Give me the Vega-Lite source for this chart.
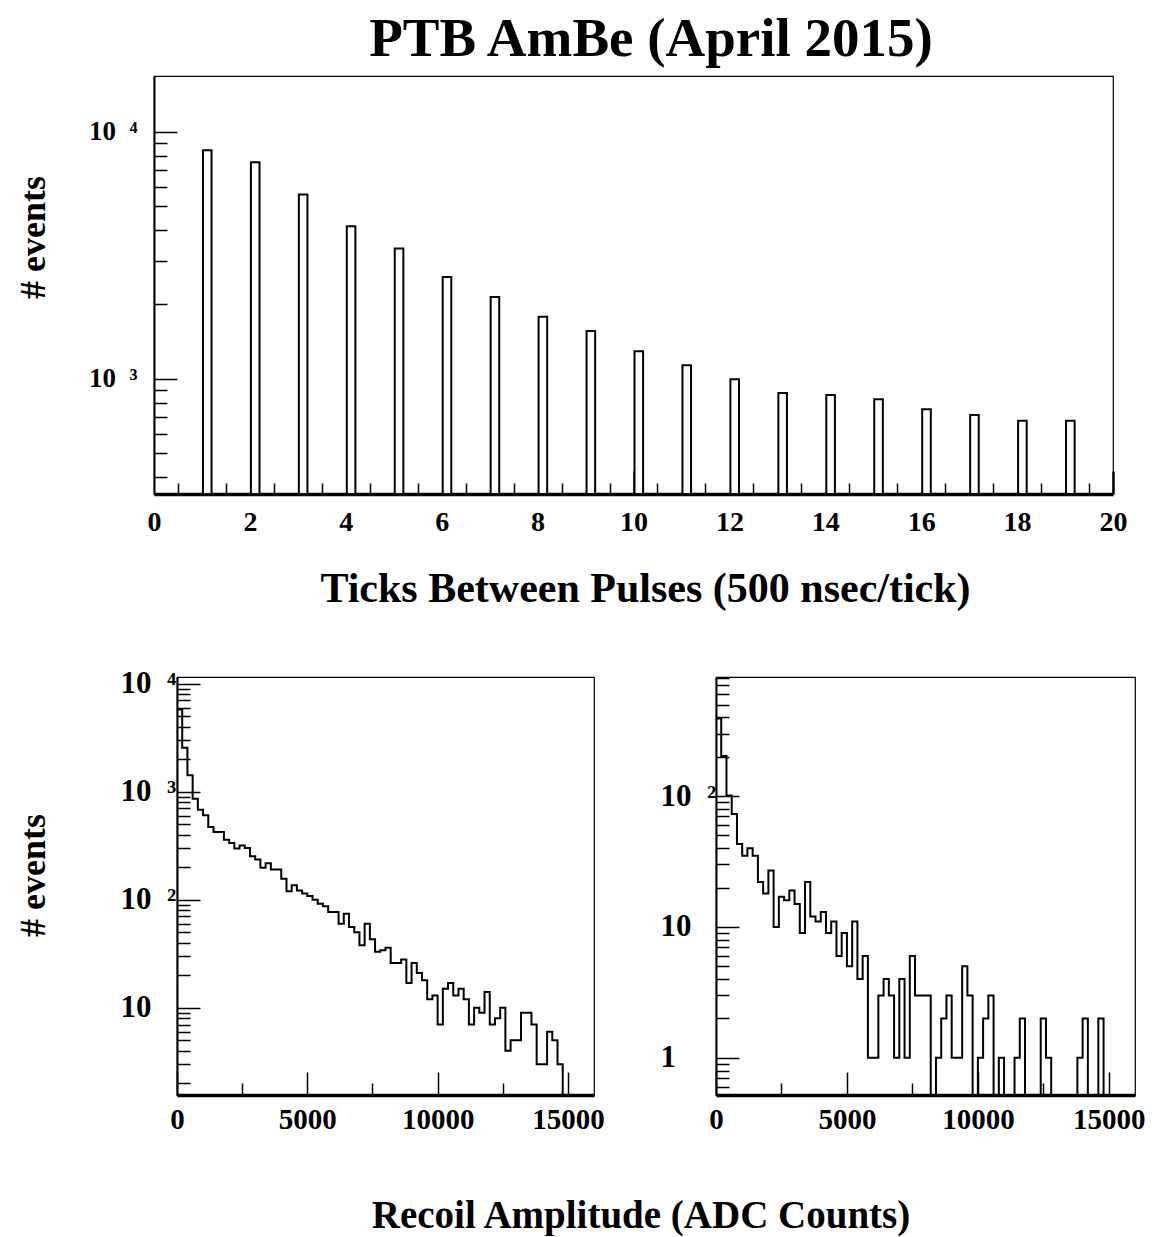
{
  "$schema": "https://vega.github.io/schema/vega-lite/v6.json",
  "background": "white",
  "padding": {"left": 14, "top": 12, "right": 2, "bottom": 0},
  "config": {
    "font": "Liberation Serif",
    "view": {"stroke": "black", "strokeWidth": 1.2},
    "axis": {"labelFont": "Liberation Serif", "labelFontWeight": "bold", "labelColor": "black", "titleFont": "Liberation Serif", "titleFontWeight": "bold", "titleColor": "black", "domainColor": "black", "tickColor": "black", "grid": false, "labelOverlap": false, "labelFlush": false},
    "title": {"font": "Liberation Serif", "fontWeight": "bold", "color": "black"}
  },
  "title": {"text": "PTB AmBe (April 2015)", "fontSize": 55, "anchor": "middle", "offset": 7, "dx": 71},
  "datasets": {
    "ticks": [
      {"tick_start": 1, "tick_end": 1.2, "events": 8420},
      {"tick_start": 2, "tick_end": 2.2, "events": 7530},
      {"tick_start": 3, "tick_end": 3.2, "events": 5570},
      {"tick_start": 4, "tick_end": 4.2, "events": 4145},
      {"tick_start": 5, "tick_end": 5.2, "events": 3365},
      {"tick_start": 6, "tick_end": 6.2, "events": 2583},
      {"tick_start": 7, "tick_end": 7.2, "events": 2142},
      {"tick_start": 8, "tick_end": 8.2, "events": 1783},
      {"tick_start": 9, "tick_end": 9.2, "events": 1563},
      {"tick_start": 10, "tick_end": 10.2, "events": 1294},
      {"tick_start": 11, "tick_end": 11.2, "events": 1135},
      {"tick_start": 12, "tick_end": 12.2, "events": 997},
      {"tick_start": 13, "tick_end": 13.2, "events": 877},
      {"tick_start": 14, "tick_end": 14.2, "events": 861},
      {"tick_start": 15, "tick_end": 15.2, "events": 827},
      {"tick_start": 16, "tick_end": 16.2, "events": 754},
      {"tick_start": 17, "tick_end": 17.2, "events": 714},
      {"tick_start": 18, "tick_end": 18.2, "events": 676},
      {"tick_start": 19, "tick_end": 19.2, "events": 676}
    ],
    "left": [
      {"amp": 0, "events": 5740}, {"amp": 200, "events": 2550}, {"amp": 400, "events": 1416}, {"amp": 600, "events": 861},
      {"amp": 800, "events": 681}, {"amp": 1000, "events": 604}, {"amp": 1200, "events": 470}, {"amp": 1400, "events": 423},
      {"amp": 1600, "events": 423}, {"amp": 1800, "events": 359}, {"amp": 2000, "events": 334}, {"amp": 2200, "events": 297},
      {"amp": 2400, "events": 318}, {"amp": 2600, "events": 301}, {"amp": 2800, "events": 252}, {"amp": 3000, "events": 236},
      {"amp": 3200, "events": 198}, {"amp": 3400, "events": 218}, {"amp": 3600, "events": 190}, {"amp": 3800, "events": 190},
      {"amp": 4000, "events": 156}, {"amp": 4200, "events": 120}, {"amp": 4400, "events": 136}, {"amp": 4600, "events": 122},
      {"amp": 4800, "events": 114}, {"amp": 5000, "events": 108}, {"amp": 5200, "events": 100}, {"amp": 5400, "events": 92},
      {"amp": 5600, "events": 87}, {"amp": 5800, "events": 77}, {"amp": 6000, "events": 77}, {"amp": 6200, "events": 60},
      {"amp": 6400, "events": 74}, {"amp": 6600, "events": 56}, {"amp": 6800, "events": 50}, {"amp": 7000, "events": 38},
      {"amp": 7200, "events": 60}, {"amp": 7400, "events": 43}, {"amp": 7600, "events": 33}, {"amp": 7800, "events": 34},
      {"amp": 8000, "events": 36}, {"amp": 8200, "events": 26}, {"amp": 8400, "events": 26}, {"amp": 8600, "events": 28},
      {"amp": 8800, "events": 17}, {"amp": 9000, "events": 26}, {"amp": 9200, "events": 21}, {"amp": 9400, "events": 18},
      {"amp": 9600, "events": 12}, {"amp": 9800, "events": 13}, {"amp": 10000, "events": 7}, {"amp": 10200, "events": 15},
      {"amp": 10400, "events": 17}, {"amp": 10600, "events": 13}, {"amp": 10800, "events": 15}, {"amp": 11000, "events": 12},
      {"amp": 11200, "events": 7}, {"amp": 11400, "events": 10}, {"amp": 11600, "events": 9}, {"amp": 11800, "events": 14},
      {"amp": 12000, "events": 7}, {"amp": 12200, "events": 8}, {"amp": 12400, "events": 10}, {"amp": 12600, "events": 4},
      {"amp": 12800, "events": 5}, {"amp": 13000, "events": 5}, {"amp": 13200, "events": 9}, {"amp": 13400, "events": 9},
      {"amp": 13600, "events": 7}, {"amp": 13800, "events": 3}, {"amp": 14000, "events": 3}, {"amp": 14200, "events": 6},
      {"amp": 14400, "events": 5}, {"amp": 14600, "events": 3}, {"amp": 14800, "events": 0}, {"amp": 15000, "events": 0},
      {"amp": 15200, "events": 0}, {"amp": 15400, "events": 0}, {"amp": 15600, "events": 0}, {"amp": 15800, "events": 0},
      {"amp": 16000, "events": 0}
    ],
    "right": [
      {"amp": 0, "events": 391}, {"amp": 200, "events": 202}, {"amp": 400, "events": 101}, {"amp": 600, "events": 73},
      {"amp": 800, "events": 43}, {"amp": 1000, "events": 35}, {"amp": 1200, "events": 40}, {"amp": 1400, "events": 35},
      {"amp": 1600, "events": 22}, {"amp": 1800, "events": 18}, {"amp": 2000, "events": 27}, {"amp": 2200, "events": 10},
      {"amp": 2400, "events": 17}, {"amp": 2600, "events": 16}, {"amp": 2800, "events": 19}, {"amp": 3000, "events": 15},
      {"amp": 3200, "events": 9}, {"amp": 3400, "events": 22}, {"amp": 3600, "events": 12}, {"amp": 3800, "events": 11},
      {"amp": 4000, "events": 13}, {"amp": 4200, "events": 9}, {"amp": 4400, "events": 11}, {"amp": 4600, "events": 6},
      {"amp": 4800, "events": 9}, {"amp": 5000, "events": 5}, {"amp": 5200, "events": 11}, {"amp": 5400, "events": 4},
      {"amp": 5600, "events": 6}, {"amp": 5800, "events": 1}, {"amp": 6000, "events": 1}, {"amp": 6200, "events": 3},
      {"amp": 6400, "events": 4}, {"amp": 6600, "events": 3}, {"amp": 6800, "events": 1}, {"amp": 7000, "events": 4},
      {"amp": 7200, "events": 1}, {"amp": 7400, "events": 6}, {"amp": 7600, "events": 3}, {"amp": 7800, "events": 3},
      {"amp": 8000, "events": 3}, {"amp": 8200, "events": 0}, {"amp": 8400, "events": 1}, {"amp": 8600, "events": 2},
      {"amp": 8800, "events": 3}, {"amp": 9000, "events": 1}, {"amp": 9200, "events": 1}, {"amp": 9400, "events": 5},
      {"amp": 9600, "events": 3}, {"amp": 9800, "events": 0}, {"amp": 10000, "events": 1}, {"amp": 10200, "events": 2},
      {"amp": 10400, "events": 3}, {"amp": 10600, "events": 0}, {"amp": 10800, "events": 1}, {"amp": 11000, "events": 0},
      {"amp": 11200, "events": 0}, {"amp": 11400, "events": 1}, {"amp": 11600, "events": 2}, {"amp": 11800, "events": 0},
      {"amp": 12000, "events": 0}, {"amp": 12200, "events": 0}, {"amp": 12400, "events": 2}, {"amp": 12600, "events": 1},
      {"amp": 12800, "events": 0}, {"amp": 13000, "events": 0}, {"amp": 13200, "events": 0}, {"amp": 13400, "events": 0},
      {"amp": 13600, "events": 0}, {"amp": 13800, "events": 1}, {"amp": 14000, "events": 2}, {"amp": 14200, "events": 0},
      {"amp": 14400, "events": 0}, {"amp": 14600, "events": 2}, {"amp": 14800, "events": 0}, {"amp": 15000, "events": 0},
      {"amp": 15200, "events": 0}, {"amp": 15400, "events": 0}, {"amp": 15600, "events": 0}, {"amp": 15800, "events": 0},
      {"amp": 16000, "events": 0}
    ]
  },
  "spacing": 56,
  "vconcat": [
    {
      "width": 959,
      "height": 418,
      "data": {"name": "ticks"},
      "layer": [
        {
          "mark": {"type": "bar", "fill": "white", "stroke": "black", "strokeWidth": 2},
          "encoding": {
            "x": {"field": "tick_start", "type": "quantitative", "bin": {"binned": true, "step": 0.2}, "scale": {"domain": [0, 20], "nice": false, "zero": false},
              "axis": {"orient": "bottom", "values": [0, 2, 4, 6, 8, 10, 12, 14, 16, 18, 20], "format": "d", "labelFontSize": 28, "labelPadding": 37,
                "tickSize": -23, "tickWidth": 2.5, "tickOpacity": {"condition": {"test": "datum.value == 10 || datum.value == 20", "value": 1}, "value": 0},
                "domainWidth": 3.5, "title": "Ticks Between Pulses (500 nsec/tick)", "titleFontSize": 42, "titlePadding": 34, "titleX": 491, "minExtent": 40, "maxExtent": 40}},
            "x2": {"field": "tick_end"},
            "y": {"field": "events", "type": "quantitative", "scale": {"type": "log", "domain": [342, 16800], "nice": false, "clamp": true},
              "axis": {"orient": "left", "values": [1000, 10000], "labelExpr": "datum.value == 10000 ? '10\u2002\u2074' : '10\u2002\u00b3'", "labelFontSize": 27, "labelPadding": 40,
                "tickSize": -23, "tickWidth": 1.5, "domainWidth": 2, "title": "# events", "titleFontSize": 36, "titlePadding": 13, "titleY": 161, "minExtent": 89, "maxExtent": 89}}
          }
        },
        {
          "mark": {"type": "point", "opacity": 0},
          "encoding": {
            "x": {"field": "tick_start", "type": "quantitative", "scale": {"domain": [0, 20], "nice": false, "zero": false},
              "axis": {"orient": "bottom", "values": [0.5, 1.5, 2.5, 3.5, 4.5, 5.5, 6.5, 7.5, 8.5, 9.5, 10.5, 11.5, 12.5, 13.5, 14.5, 15.5, 16.5, 17.5, 18.5, 19.5], "labels": false, "domain": false, "title": null, "tickSize": -11, "tickWidth": 1.5}},
            "y": {"field": "events", "type": "quantitative", "scale": {"type": "log", "domain": [342, 16800], "nice": false, "clamp": true},
              "axis": {"orient": "left", "values": [400, 500, 600, 700, 800, 900, 2000, 3000, 4000, 5000, 6000, 7000, 8000, 9000], "labels": false, "domain": false, "title": null, "tickSize": -13, "tickWidth": 1.5}}
          }
        }
      ],
      "resolve": {"axis": {"x": "independent", "y": "independent"}}
    },
    {
      "bounds": "flush",
      "spacing": 0,
      "hconcat": [
        {
          "width": 23,
          "height": 418,
          "view": {"stroke": null},
          "data": {"values": []},
          "mark": {"type": "point", "opacity": 0},
          "encoding": {}
        },
        {
          "spacing": 54,
          "title": {"text": "Recoil Amplitude (ADC Counts)", "orient": "bottom", "fontSize": 39, "anchor": "middle", "offset": 62, "dx": 61},
          "hconcat": [
            {
              "width": 417,
              "height": 418,
              "data": {"name": "left"},
              "layer": [
                {
                  "mark": {"type": "line", "interpolate": "step-after", "color": "black", "strokeWidth": 2, "clip": true, "invalid": null},
                  "encoding": {
                    "x": {"field": "amp", "type": "quantitative", "scale": {"domain": [0, 16000], "nice": false},
                      "axis": {"orient": "bottom", "values": [0, 5000, 10000, 15000], "format": "d", "labelFontSize": 29, "labelPadding": 33, "tickSize": -23, "tickWidth": 1.5, "domainWidth": 3.5, "title": null}},
                    "y": {"field": "events", "type": "quantitative", "scale": {"type": "log", "domain": [1.56, 11500], "nice": false, "clamp": true},
                      "axis": {"orient": "left", "values": [10, 100, 1000, 10000], "labelExpr": "datum.value == 10000 ? '10\u2002\u2074' : datum.value == 1000 ? '10\u2002\u00b3' : datum.value == 100 ? '10\u2002\u00b2' : '10'", "labelFontSize": 31, "labelPadding": 80, "labelAlign": "left",
                        "tickSize": -23, "tickWidth": 1.5, "domainWidth": 2, "title": "# events", "titleFontSize": 36, "titlePadding": 13, "titleY": 198, "minExtent": 112, "maxExtent": 112}}
                  }
                },
                {
                  "mark": {"type": "point", "opacity": 0},
                  "encoding": {
                    "x": {"field": "amp", "type": "quantitative", "scale": {"domain": [0, 16000], "nice": false},
                      "axis": {"orient": "bottom", "values": [2500, 7500, 12500], "labels": false, "domain": false, "title": null, "tickSize": -12, "tickWidth": 1.5}},
                    "y": {"field": "events", "type": "quantitative", "scale": {"type": "log", "domain": [1.56, 11500], "nice": false, "clamp": true},
                      "axis": {"orient": "left", "values": [2, 3, 4, 5, 6, 7, 8, 9, 20, 30, 40, 50, 60, 70, 80, 90, 200, 300, 400, 500, 600, 700, 800, 900, 2000, 3000, 4000, 5000, 6000, 7000, 8000, 9000], "labels": false, "domain": false, "title": null, "tickSize": -13, "tickWidth": 1.5}}
                  }
                }
              ],
              "resolve": {"axis": {"x": "independent", "y": "independent"}}
            },
            {
              "width": 419,
              "height": 418,
              "data": {"name": "right"},
              "layer": [
                {
                  "mark": {"type": "line", "interpolate": "step-after", "color": "black", "strokeWidth": 2, "clip": true, "invalid": null},
                  "encoding": {
                    "x": {"field": "amp", "type": "quantitative", "scale": {"domain": [0, 16000], "nice": false},
                      "axis": {"orient": "bottom", "values": [0, 5000, 10000, 15000], "format": "d", "labelFontSize": 29, "labelPadding": 33, "tickSize": -23, "tickWidth": 1.5, "domainWidth": 3.5, "title": null}},
                    "y": {"field": "events", "type": "quantitative", "scale": {"type": "log", "domain": [0.52, 812], "nice": false, "clamp": true},
                      "axis": {"orient": "left", "values": [1, 10, 100], "labelExpr": "datum.value == 100 ? '10\u2002\u00b2' : datum.value == 10 ? '10' : '1'", "labelFontSize": 31, "labelPadding": 79, "labelAlign": "left",
                        "tickSize": -23, "tickWidth": 1.5, "domainWidth": 2, "title": null}}
                  }
                },
                {
                  "mark": {"type": "point", "opacity": 0},
                  "encoding": {
                    "x": {"field": "amp", "type": "quantitative", "scale": {"domain": [0, 16000], "nice": false},
                      "axis": {"orient": "bottom", "values": [2500, 7500, 12500], "labels": false, "domain": false, "title": null, "tickSize": -12, "tickWidth": 1.5}},
                    "y": {"field": "events", "type": "quantitative", "scale": {"type": "log", "domain": [0.52, 812], "nice": false, "clamp": true},
                      "axis": {"orient": "left", "values": [0.6, 0.7, 0.8, 0.9, 2, 3, 4, 5, 6, 7, 8, 9, 20, 30, 40, 50, 60, 70, 80, 90, 200, 300, 400, 500, 600, 700, 800], "labels": false, "domain": false, "title": null, "tickSize": -13, "tickWidth": 1.5}}
                  }
                }
              ],
              "resolve": {"axis": {"x": "independent", "y": "independent"}}
            }
          ]
        }
      ]
    }
  ]
}
